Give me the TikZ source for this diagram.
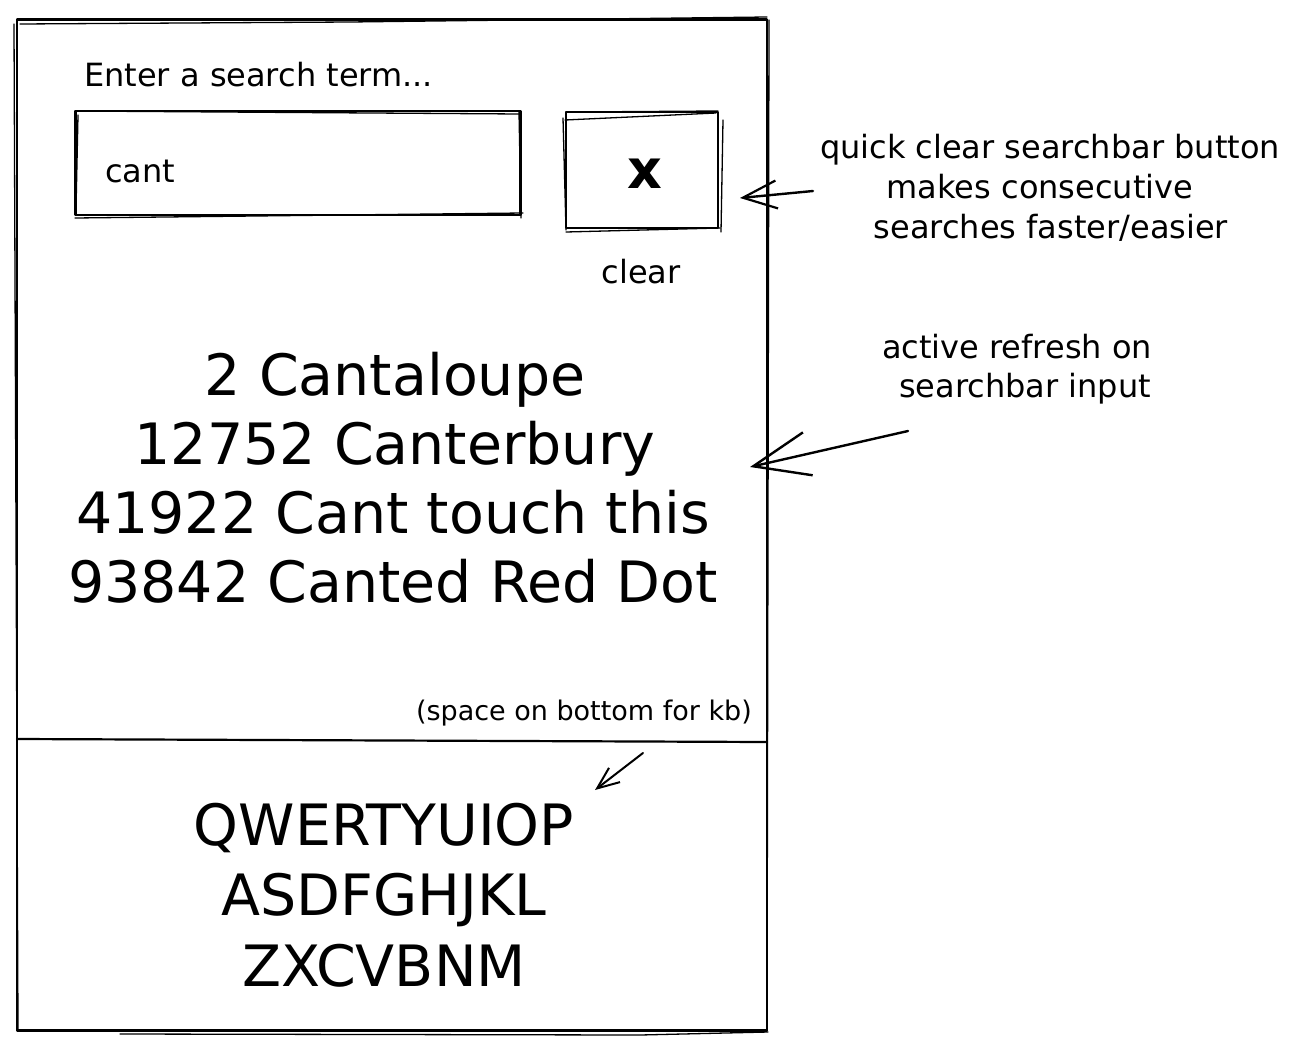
\documentclass[tikz,border=0pt]{standalone}
\usepackage{fontspec}
\setmainfont{DejaVu Sans}
\usetikzlibrary{arrows.meta}
\begin{document}
\begin{tikzpicture}[x=1pt,y=-1pt,
  ink/.style={line width=2.2pt, line cap=round, line join=round},
  thinink/.style={line width=1.3pt, line cap=round},
  box/.style={draw, ink, inner sep=0pt},
  small/.style={anchor=base, inner sep=0pt, font=\fontsize{32}{38}\selectfont},
  tiny/.style={anchor=base, inner sep=0pt, font=\fontsize{27}{32}\selectfont},
  big/.style={anchor=base, inner sep=0pt, font=\fontsize{57}{68}\selectfont},
  note/.style={ink, line width=2.4pt}]
% canvas
\fill[white] (0,0) rectangle (1298,1052);
\useasboundingbox (0,0) rectangle (1298,1052);

% phone frame and keyboard divider
\node[box, minimum width=750pt, minimum height=1011pt] (phone) at (392,525) {};
\draw[thinink] (20,24) -- (350,22) -- (767,17);
\draw[thinink] (14,24) -- (18,1031);
\draw[thinink] (769,20) -- (767,1029);
\draw[thinink] (120,1034) -- (640,1035) -- (768,1032);
\coordinate (divL) at (17,739);
\coordinate (divR) at (767,742);
\draw[ink] (divL) -- (divR);

% search field
\node[small, anchor=base west] (prompt) at (84,86) {Enter a search term...};
\node[box, minimum width=445pt, minimum height=104pt] (field) at (298,163) {};
\draw[thinink] (75,111) -- (520,114);
\draw[thinink] (75,218) -- (523,213);
\draw[thinink] (78,115) -- (76,210);
\draw[thinink] (519,112) -- (521,218);
\node[small, anchor=base west] (query) at (105,182) {cant};

% clear button
\node[box, minimum width=152pt, minimum height=116pt] (clearbtn) at (642,170) {};
\draw[thinink] (565,120) -- (716,113);
\draw[thinink] (570,112) -- (718,111);
\draw[thinink] (566,232) -- (720,228);
\draw[thinink] (563,118) -- (566,230);
\draw[thinink] (723,120) -- (721,232);
\node[inner sep=0pt, font=\fontsize{54}{54}\bfseries] (xmark) at (645,174) {x};
\node[small] (clearlbl) at (641,283) {clear};

% search results
\node[big] (r1) at (395,395) {2 Cantaloupe};
\node[big] (r2) at (395,464) {12752 Canterbury};
\node[big] (r3) at (393,533) {41922 Cant touch this};
\node[big] (r4) at (393,602) {93842 Canted Red Dot};
\node[tiny, anchor=base east] (kbnote) at (752,720) {(space on bottom for kb)};

% keyboard rows
\node[big] (k1) at (384,845) {QWERTYUIOP};
\node[big] (k2) at (384,915) {ASDFGHJKL};
\node[big] (k3) at (384,986) {ZXCVBNM};

% annotations
\node[small] (n1a) at (1050,158) {quick clear searchbar button};
\node[small] (n1b) at (1040,198) {makes consecutive};
\node[small] (n1c) at (1051,238) {searches faster/easier};
\node[small] (n2a) at (1017,358) {active refresh on};
\node[small] (n2b) at (1025,397) {searchbar input};

\coordinate (a1s) at (813,191);
\coordinate (a1e) at (740,198);
\coordinate (a2s) at (908,431);
\coordinate (a2e) at (750,467);
\coordinate (a3s) at (643,753);
\coordinate (a3e) at (595,790);
\draw[note, -{Straight Barb[length=34pt,width=28pt,line width=2.2pt]}] (a1s) -- (a1e);
\draw[note, -{Straight Barb[length=56pt,width=44pt,line width=2.4pt]}] (a2s) -- (a2e);
\draw[note, line width=2pt, -{Straight Barb[length=22pt,width=18pt,line width=2pt]}] (a3s) -- (a3e);
\end{tikzpicture}
\end{document}
